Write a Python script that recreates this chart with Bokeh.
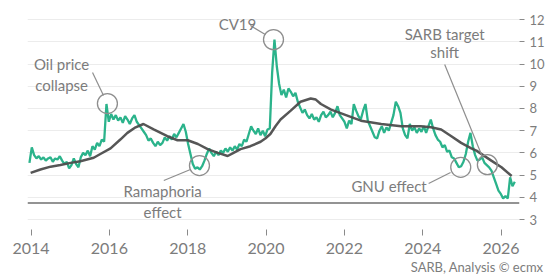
import numpy as np
from bokeh.plotting import figure
from bokeh.models import Range1d, Span, Title, FixedTicker
from bokeh.embed import file_html
from bokeh.resources import INLINE
from bokeh.core.properties import value

spread_p01 = [5.55, 6.25, 5.9, 5.75, 5.85, 5.7, 5.8, 5.65, 5.75, 5.8, 5.6, 5.75, 5.7, 5.85, 5.65, 5.5]
spread_p02 = [5.6, 5.3, 5.45, 5.75, 5.5, 5.35, 5.8, 6.0, 5.9, 6.1, 5.85, 6.3, 6.15, 6.45, 6.3, 6.6]
spread_p03 = [6.5, 8.2, 7.4, 7.75, 7.5, 7.7, 7.45, 7.6, 7.35, 7.65, 7.5, 7.3, 7.55, 7.7, 7.4, 7.25]
spread_p04 = [7.1, 6.95, 6.8, 6.55, 6.65, 6.45, 6.3, 6.5, 6.35, 6.45, 6.7, 6.55, 6.75, 6.6, 6.85, 6.7]
spread_p05 = [6.9, 7.1, 7.3, 6.95, 6.4, 5.95, 5.5, 5.28, 5.35, 5.25, 5.4, 5.65, 5.95, 6.2, 6.0, 5.85]
spread_p06 = [6.05, 5.9, 6.1, 6.0, 6.2, 6.05, 6.25, 6.1, 6.3, 6.15, 6.4, 6.3, 6.6, 6.5, 6.85, 7.2]
spread_p07 = [7.0, 6.85, 7.1, 6.8, 7.0, 6.75, 7.05, 7.1, 9.6, 11.1, 9.9, 9.1, 8.6, 8.85, 8.5, 8.9]
spread_p08 = [8.75, 8.55, 8.7, 8.3, 8.05, 7.8, 7.95, 7.7, 7.55, 7.75, 7.5, 7.6, 7.4, 7.7, 7.85, 7.6]
spread_p09 = [7.7, 7.85, 7.6, 7.8, 8.1, 7.7, 7.55, 7.4, 7.1, 7.45, 7.3, 8.2, 7.9, 7.65, 7.5, 7.9]
spread_p10 = [8.2, 7.45, 7.2, 6.95, 6.7, 6.65, 7.0, 7.2, 6.9, 7.15, 7.0, 7.35, 7.7, 8.3, 8.1, 7.8]
spread_p11 = [7.1, 6.8, 6.65, 7.3, 7.0, 7.15, 6.9, 7.1, 6.95, 7.2, 6.9, 7.2, 7.5, 7.1, 6.8, 6.6]
spread_p12 = [6.5, 6.25, 6.35, 6.05, 6.1, 5.8, 5.75, 5.55, 5.35, 5.4, 5.6, 5.95, 6.5, 6.9, 6.3, 5.9]
spread_p13 = [5.65, 5.7, 5.8, 5.55, 5.45, 5.35, 5.2, 4.9, 4.6, 4.3, 4.15, 3.95, 4.05, 3.95, 4.9, 4.5, 4.7]
spread_first, spread_last = 2013.96, 2026.35

# ---- Black series: smoothed average ----
avg_years = [2013.99, 2014.24, 2014.50, 2014.75, 2015.01, 2015.26, 2015.60, 2015.77, 2016.03,
             2016.28, 2016.46, 2016.67, 2016.87, 2017.13, 2017.48, 2017.74, 2018.00, 2018.26,
             2018.51, 2018.77, 2019.02, 2019.17, 2019.35, 2019.60, 2019.86, 2019.98, 2020.11,
             2020.24, 2020.37, 2020.63, 2020.88, 2021.14, 2021.27, 2021.40, 2021.66, 2022.04,
             2022.42, 2022.94, 2023.45, 2023.95, 2024.21, 2024.47, 2024.73, 2024.98, 2025.24,
             2025.37, 2025.75, 2026.01, 2026.27]
avg_values = [5.1, 5.25, 5.38, 5.45, 5.55, 5.62, 5.78, 5.95, 6.2,
              6.6, 6.9, 7.15, 7.3, 7.06, 6.75, 6.57, 6.57, 6.4,
              6.17, 6.0, 5.86, 6.0, 6.17, 6.3, 6.5, 6.65, 6.85,
              7.2, 7.5, 7.9, 8.3, 8.45, 8.4, 8.2, 7.95, 7.7,
              7.45, 7.3, 7.2, 7.2, 7.15, 7.05, 6.75, 6.45, 6.2,
              6.1, 5.65, 5.35, 4.96]

# ---- Axis ticks ----
x_ticks = [2014, 2016, 2018, 2020, 2022, 2024, 2026]
x_tick_labels = ["2014", "2016", "2018", "2020", "2022", "2024", "2026"]
y_ticks = [3, 4, 5, 6, 7, 8, 9, 10, 11, 12]
base_level = 3.74

# ---- Annotations ----
ann_text = ["Oil price", "collapse", "CV19", "Ramaphoria", "effect", "GNU effect", "SARB target", "shift"]
ann_x = [2014.78, 2014.78, 2019.27, 2017.36, 2017.36, 2023.14, 2024.56, 2024.56]
ann_y = [9.98, 9.07, 11.82, 4.28, 3.32, 4.53, 11.37, 10.52]
circle_x = [2015.95, 2018.30, 2020.19, 2024.97, 2025.65]
circle_y = [8.22, 5.43, 11.10, 5.35, 5.47]
lead_x0 = [2015.57, 2019.60, 2017.39, 2024.15, 2024.56]
lead_y0 = [9.62, 11.73, 4.755, 4.62, 9.98]
lead_x1 = [2015.85, 2019.98, 2018.07, 2024.71, 2025.53]
lead_y1 = [8.58, 11.33, 5.25, 5.12, 5.79]
footer = "SARB, Analysis \u00a9 ecmx"

FONT = "Lato"
GREY_TXT = "#7c7c7c"
GREY_ANN = "#8e8e8e"

spread = np.array(spread_p01 + spread_p02 + spread_p03 + spread_p04 + spread_p05 + spread_p06 +
                  spread_p07 + spread_p08 + spread_p09 + spread_p10 + spread_p11 + spread_p12 + spread_p13)
spread_x = np.linspace(spread_first, spread_last, len(spread))

p = figure(width=547, height=277, output_backend="svg", toolbar_location=None,
           x_range=Range1d(2013.91, 2026.47), y_range=Range1d(2.55, 12.23),
           y_axis_location="right",
           min_border_left=27, min_border_top=14, min_border_right=28, min_border_bottom=48)
p.outline_line_color = None
p.background_fill_color = "white"
p.border_fill_color = "white"

# x axis
p.xaxis.ticker = FixedTicker(ticks=x_ticks)
p.xaxis.major_label_overrides = {t: l for t, l in zip(x_ticks, x_tick_labels)}
p.xaxis.axis_line_color = None
p.xaxis.major_tick_line_color = "#8a8a8a"
p.xaxis.major_tick_in = 0
p.xaxis.major_tick_out = 6
p.xaxis.minor_tick_line_color = None
p.xaxis.major_label_standoff = 7
p.xaxis.major_label_text_font = FONT
p.xaxis.major_label_text_font_size = "16px"
p.xaxis.major_label_text_color = GREY_TXT

# y axis
p.yaxis.ticker = FixedTicker(ticks=y_ticks)
p.yaxis.axis_line_color = None
p.yaxis.major_tick_line_color = "#8a8a8a"
p.yaxis.major_tick_in = 0
p.yaxis.major_tick_out = 5
p.yaxis.minor_tick_line_color = None
p.yaxis.major_label_standoff = 5
p.yaxis.major_label_text_font = FONT
p.yaxis.major_label_text_font_size = "13px"
p.yaxis.major_label_text_color = GREY_TXT

p.xgrid.grid_line_color = None
p.ygrid.grid_line_color = "#ececec"
p.ygrid.grid_line_width = 1

p.add_layout(Span(location=base_level, dimension="width", line_color="#6f6f6f", line_width=1.5))

p.line(spread_x, spread, line_color="#2bb38b", line_width=2.3)
p.line(avg_years, avg_values, line_color="#4d4d4d", line_width=2.5, line_alpha=0.95)

p.scatter(circle_x, circle_y, marker="circle", size=20, fill_color=None,
          line_color=GREY_ANN, line_width=1.3)
p.segment(lead_x0, lead_y0, lead_x1, lead_y1, line_color=GREY_ANN, line_width=1.2)
p.text(ann_x, ann_y, text=ann_text, text_align="center", text_baseline="middle",
       text_font=value(FONT), text_font_size="15px", text_color=GREY_TXT)

p.add_layout(Title(text=footer, align="right", text_font=FONT, text_font_size="13px",
                   text_font_style="normal", text_color=GREY_TXT, standoff=0, offset=-24), "below")

open("out.html", "w").write(file_html(p, INLINE))
